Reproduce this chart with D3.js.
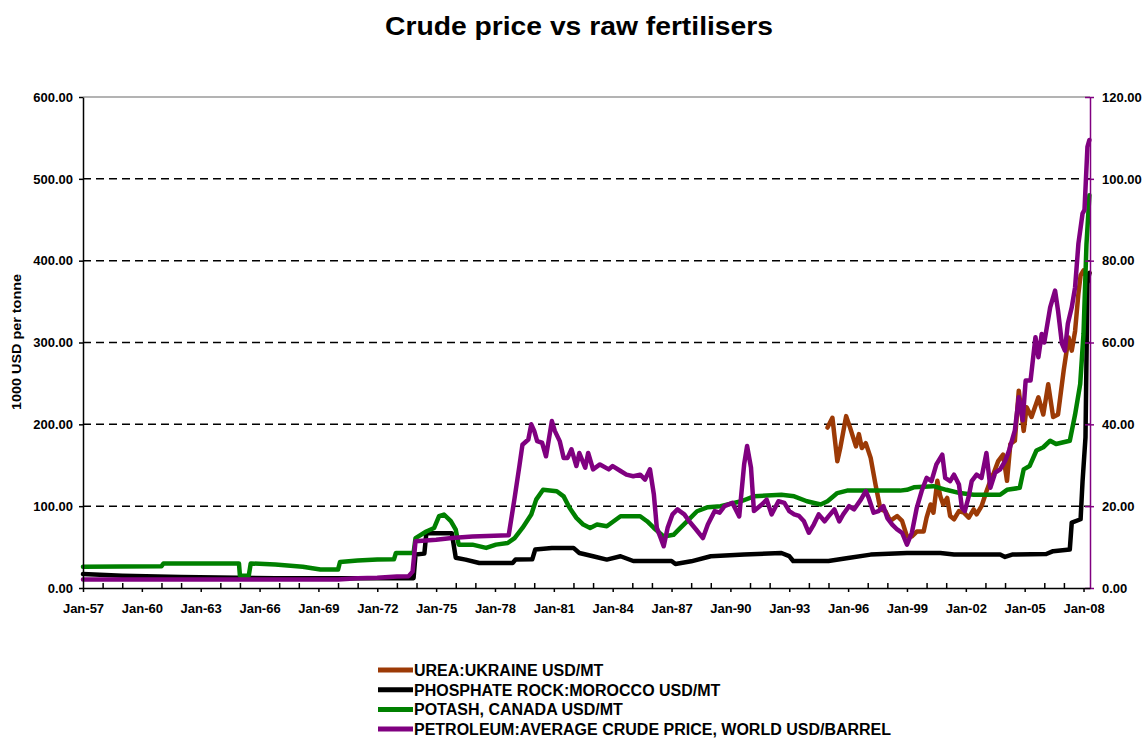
<!DOCTYPE html>
<html>
<head>
<meta charset="utf-8">
<script src="https://cdn.jsdelivr.net/npm/d3@7"></script>
<style>
  body { margin: 0; background: #fff; }
  text { font-family: "Liberation Sans", Arial, sans-serif; font-weight: bold; fill: #000; }
</style>
</head>
<body>
<div id="wrapper"></div>
<script>
// series as [decimal year, value]; fertilisers in USD/MT (left), crude in USD/barrel (right)
const urea = [
  [1994.95,196],[1995.2,208],[1995.45,155],[1995.6,171],[1995.9,210],[1996.1,196],[1996.4,173],
  [1996.55,188],[1996.7,171],[1996.9,177],[1997.15,159],[1997.4,126],[1997.65,96],[1997.9,94],
  [1998.15,82],[1998.5,88],[1998.75,82],[1999.0,63],[1999.25,63],[1999.5,69],[1999.85,69],
  [2000.0,86],[2000.2,102],[2000.35,92],[2000.55,131],[2000.7,112],[2000.85,102],[2001.05,110],
  [2001.2,88],[2001.4,84],[2001.65,94],[2001.9,92],[2002.15,86],[2002.4,96],[2002.55,90],
  [2002.8,100],[2003.05,118],[2003.25,131],[2003.4,139],[2003.65,155],[2003.9,163],[2004.1,131],
  [2004.27,176],[2004.5,180],[2004.7,241],[2004.95,192],[2005.1,221],[2005.35,209],[2005.7,233],
  [2005.95,212],[2006.2,249],[2006.45,209],[2006.7,212],[2006.99,266],[2007.24,306],[2007.4,290],
  [2007.57,314],[2007.74,360],[2007.85,382],[2008.0,388],[2008.15,380],[2008.3,385]
];

const phosphate = [
  [1957.0,17],[1959.0,15],[1962.0,13.5],[1966.8,12],[1973.85,12],[1973.95,41],[1974.4,42],
  [1974.5,67],[1975.8,67],[1976.0,37],[1976.5,34.7],[1977.2,30.6],[1978.9,30.6],[1979.05,34.7],
  [1979.9,35],[1980.05,47],[1980.9,49],[1982.0,49],[1982.3,42.8],[1983.0,38.8],[1983.7,34.7],
  [1984.4,38.8],[1985.05,33],[1987.0,33],[1987.2,29.4],[1988.0,32.6],[1989.0,38.8],[1990.7,40.8],
  [1992.6,42.8],[1993.0,39],[1993.2,33],[1995.0,33],[1996.0,36.7],[1997.15,40.8],[1999.0,42.8],
  [2000.7,42.8],[2001.4,41],[2003.75,41],[2004.0,38],[2004.4,41],[2006.1,41.5],[2006.45,45],
  [2007.3,47],[2007.4,80],[2007.85,84],[2007.95,130],[2008.1,184],[2008.2,372],[2008.3,385]
];

const potash = [
  [1957.0,26],[1961.0,26.5],[1961.1,30],[1964.95,30],[1965.0,15],[1965.45,15],[1965.55,30],
  [1966.8,28.6],[1968.2,26],[1969.1,22.5],[1970.0,22.5],[1970.1,31.8],[1971.0,33.5],[1972.0,34.7],
  [1972.85,35],[1972.95,42.8],[1973.85,42.8],[1973.95,61],[1974.5,69],[1974.9,73.4],[1975.15,87.7],
  [1975.4,89.8],[1975.75,81.6],[1976.0,71.4],[1976.15,53],[1976.85,53],[1977.55,49],[1978.05,53],
  [1978.65,55],[1979.0,61],[1979.4,73.4],[1979.85,89.8],[1980.1,108],[1980.45,120],[1981.15,118.3],
  [1981.5,112],[1981.8,98],[1982.15,85.7],[1982.5,77.5],[1982.85,73.4],[1983.2,77.5],[1983.7,75.5],
  [1984.05,81.6],[1984.4,87.7],[1985.4,87.7],[1985.75,81.6],[1986.1,73.4],[1986.6,63],[1987.1,65],
  [1987.45,73.4],[1987.8,81.6],[1988.3,93.8],[1988.85,98.7],[1989.5,100],[1990.55,106],[1991.2,112],
  [1992.6,114],[1993.25,112],[1993.9,106],[1994.6,102],[1994.95,106],[1995.45,116],[1995.95,119],
  [1998.65,119],[1999.0,120],[1999.35,123],[2000.35,124.4],[2001.0,120],[2001.7,116],[2002.4,114],
  [2003.75,114],[2004.1,120],[2004.75,122.4],[2004.95,145],[2005.25,149],[2005.6,168],[2005.95,172],
  [2006.3,180],[2006.6,176],[2007.3,180],[2007.57,212],[2007.83,249],[2008.0,311],[2008.15,420],
  [2008.3,480]
];

const petroleum = [
  [1957.0,2.1],[1965.0,2.1],[1970.0,2.1],[1971.0,2.4],[1972.0,2.5],[1973.0,2.8],[1973.6,2.9],
  [1973.8,4],[1973.95,11.4],[1975.0,11.8],[1975.8,12.2],[1976.85,12.6],[1978.7,12.9],[1979.0,22],
  [1979.25,30],[1979.4,35],[1979.7,36.3],[1979.85,40],[1980.0,38.4],[1980.15,35.9],[1980.4,35.5],
  [1980.6,32.2],[1980.7,35],[1980.9,40.8],[1981.05,38.4],[1981.3,35.9],[1981.5,31.8],[1981.7,31.8],
  [1981.9,33.9],[1982.15,29.8],[1982.3,33],[1982.6,29.4],[1982.75,33],[1983.0,29],[1983.35,30.2],
  [1983.8,29],[1984.0,29.8],[1984.4,28.6],[1984.7,27.7],[1985.05,27.3],[1985.4,27.7],[1985.65,26.5],
  [1985.9,29],[1986.1,22.8],[1986.25,14.7],[1986.45,12.2],[1986.6,10.2],[1986.8,14.7],[1987.05,18],
  [1987.3,19.2],[1987.65,18],[1987.9,16.3],[1988.25,14.3],[1988.6,12.2],[1988.85,15.5],[1989.2,18.8],
  [1989.45,18.4],[1989.7,20],[1990.1,20.8],[1990.45,17.5],[1990.7,30.2],[1990.85,34.7],[1991.05,29.4],
  [1991.2,18.8],[1991.6,20.4],[1991.85,21.6],[1992.1,18],[1992.45,21.2],[1992.75,20.8],[1993.0,18.8],
  [1993.25,18],[1993.5,17.6],[1993.75,16.3],[1994.0,13.5],[1994.25,15.5],[1994.5,18],[1994.8,16.3],
  [1995.0,17.5],[1995.3,19.2],[1995.55,16.3],[1995.75,18],[1996.05,20],[1996.3,19.2],[1996.65,21.6],
  [1996.9,23.7],[1997.05,22],[1997.3,18.4],[1997.55,18.8],[1997.8,20],[1998.0,17.1],[1998.25,15.5],
  [1998.5,14.3],[1998.75,13.5],[1999.0,10.6],[1999.25,13.5],[1999.5,19.6],[1999.75,23.7],[2000.0,26.9],
  [2000.25,26.1],[2000.5,30.2],[2000.8,32.6],[2000.95,26.9],[2001.2,26.1],[2001.4,27.7],[2001.65,25.3],
  [2001.8,19.6],[2001.95,18.8],[2002.15,22.4],[2002.3,26.1],[2002.55,27.7],[2002.8,26.9],[2003.05,33],
  [2003.25,24.5],[2003.5,28.2],[2003.75,29],[2004.0,31],[2004.2,33.5],[2004.5,38.5],[2004.7,46.6],
  [2004.9,41],[2005.05,50.7],[2005.3,50.7],[2005.55,61.3],[2005.7,56.4],[2005.87,62.1],[2006.0,60],
  [2006.3,68.6],[2006.55,72.7],[2006.7,67.8],[2006.9,59.7],[2007.05,58],[2007.2,64.6],[2007.4,68.6],
  [2007.57,73.5],[2007.74,84.2],[2007.95,91.5],[2008.05,92.4],[2008.2,107.8],[2008.3,109.5]
];

const seriesNames = [
  "UREA:UKRAINE USD/MT",
  "PHOSPHATE ROCK:MOROCCO USD/MT",
  "POTASH, CANADA USD/MT",
  "PETROLEUM:AVERAGE CRUDE PRICE, WORLD USD/BARREL"
];
const seriesColors = ["#9c3a06", "#000000", "#008000", "#800080"];
const leftTicks = [0, 100, 200, 300, 400, 500, 600];
const rightTicks = [0, 20, 40, 60, 80, 100, 120];
const yearTicks = d3.range(1957, 2009);
const labelYears = d3.range(1957, 2009, 3);

const dimensions = {
  width: 1145,
  height: 738,
  margin: { top: 97, right: 55, bottom: 150, left: 83 }
};
dimensions.bounded_width = dimensions.width - dimensions.margin.left - dimensions.margin.right;
dimensions.bounded_height = dimensions.height - dimensions.margin.top - dimensions.margin.bottom;

const svg = d3.select("#wrapper").append("svg")
  .attr("width", dimensions.width)
  .attr("height", dimensions.height);

const bounds = svg.append("g")
  .attr("transform", `translate(${dimensions.margin.left},${dimensions.margin.top})`);

const xScale = d3.scaleLinear()
  .domain([1957, 2008.33])
  .range([0, dimensions.bounded_width]);
const yLeft = d3.scaleLinear()
  .domain([0, 600])
  .range([dimensions.bounded_height, 0]);
const yRight = d3.scaleLinear()
  .domain([0, 120])
  .range([dimensions.bounded_height, 0]);

// title
svg.append("text")
  .attr("x", 579).attr("y", 35)
  .attr("text-anchor", "middle")
  .attr("font-size", 25)
  .attr("textLength", 388)
  .attr("lengthAdjust", "spacingAndGlyphs")
  .text("Crude price vs raw fertilisers");

// grid
bounds.append("g")
  .selectAll("line")
  .data(leftTicks.filter(d => d > 0 && d < 600))
  .join("line")
  .attr("x1", 0).attr("x2", dimensions.bounded_width)
  .attr("y1", d => yLeft(d)).attr("y2", d => yLeft(d))
  .attr("stroke", "#000")
  .attr("stroke-width", 1.5)
  .attr("stroke-dasharray", "8,5");

bounds.append("line")
  .attr("x1", 0).attr("x2", dimensions.bounded_width)
  .attr("y1", yLeft(600)).attr("y2", yLeft(600))
  .attr("stroke", "#9a9a9a")
  .attr("stroke-width", 1.5);

// lines
const lineLeft = d3.line().x(d => xScale(d[0])).y(d => yLeft(d[1]));
const lineRight = d3.line().x(d => xScale(d[0])).y(d => yRight(d[1]));

const plotted = [
  { data: urea, line: lineLeft },
  { data: phosphate, line: lineLeft },
  { data: potash, line: lineLeft },
  { data: petroleum, line: lineRight }
];
plotted.forEach((s, i) => {
  bounds.append("path")
    .attr("d", s.line(s.data))
    .attr("fill", "none")
    .attr("stroke", seriesColors[i])
    .attr("stroke-width", 4.5)
    .attr("stroke-linejoin", "round")
    .attr("stroke-linecap", "round");
});

// left axis
const leftAxis = bounds.append("g")
  .call(d3.axisLeft(yLeft).tickValues(leftTicks).tickSize(4).tickSizeOuter(0).tickPadding(6)
    .tickFormat(d3.format(".2f")));
leftAxis.select(".domain").attr("stroke", "#000").attr("stroke-width", 1.5);
leftAxis.selectAll(".tick line").attr("stroke", "#000").attr("stroke-width", 1.5);
leftAxis.selectAll("text").attr("font-size", 13).attr("font-family", null);

// right axis
const rightAxis = bounds.append("g")
  .attr("transform", `translate(${dimensions.bounded_width},0)`)
  .call(d3.axisRight(yRight).tickValues(rightTicks).tickSize(4).tickSizeOuter(0).tickPadding(8)
    .tickFormat(d3.format(".2f")));
rightAxis.select(".domain").attr("stroke", "#800080").attr("stroke-width", 1.5);
rightAxis.selectAll(".tick line").attr("x1", -5).attr("stroke", "#800080").attr("stroke-width", 1.5);
rightAxis.selectAll("text").attr("font-size", 13).attr("font-family", null);

// bottom axis: yearly minor ticks inside, labelled 3-yearly ticks outside
const minorAxis = bounds.append("g")
  .attr("transform", `translate(0,${dimensions.bounded_height})`)
  .call(d3.axisBottom(xScale).tickValues(yearTicks.filter(y => !labelYears.includes(y)))
    .tickSize(-5).tickSizeOuter(0).tickFormat(""));
minorAxis.select(".domain").remove();
minorAxis.selectAll(".tick line").attr("stroke", "#000").attr("stroke-width", 1.5);

const bottomAxis = bounds.append("g")
  .attr("transform", `translate(0,${dimensions.bounded_height})`)
  .call(d3.axisBottom(xScale).tickValues(labelYears).tickSize(4).tickSizeOuter(0).tickPadding(12)
    .tickFormat(y => "Jan-" + String(y).slice(2)));
bottomAxis.select(".domain").attr("stroke", "#000").attr("stroke-width", 1.5);
bottomAxis.selectAll(".tick line").attr("stroke", "#000").attr("stroke-width", 1.5);
bottomAxis.selectAll("text").attr("font-size", 13).attr("font-family", null);

// y title
svg.append("text")
  .attr("transform", "translate(21,342) rotate(-90)")
  .attr("text-anchor", "middle")
  .attr("font-size", 12)
  .attr("textLength", 136)
  .attr("lengthAdjust", "spacingAndGlyphs")
  .text("1000 USD per tonne");

// legend
const legend = svg.append("g").attr("transform", "translate(378,670)");
const rows = legend.selectAll("g")
  .data(seriesNames)
  .join("g")
  .attr("transform", (d, i) => `translate(0,${i * 19.7})`);
rows.append("line")
  .attr("x1", 0).attr("x2", 35)
  .attr("stroke", (d, i) => seriesColors[i])
  .attr("stroke-width", 5);
rows.append("text")
  .attr("x", 36).attr("y", 6)
  .attr("font-size", 16)
  .text(d => d);
</script>
</body>
</html>
